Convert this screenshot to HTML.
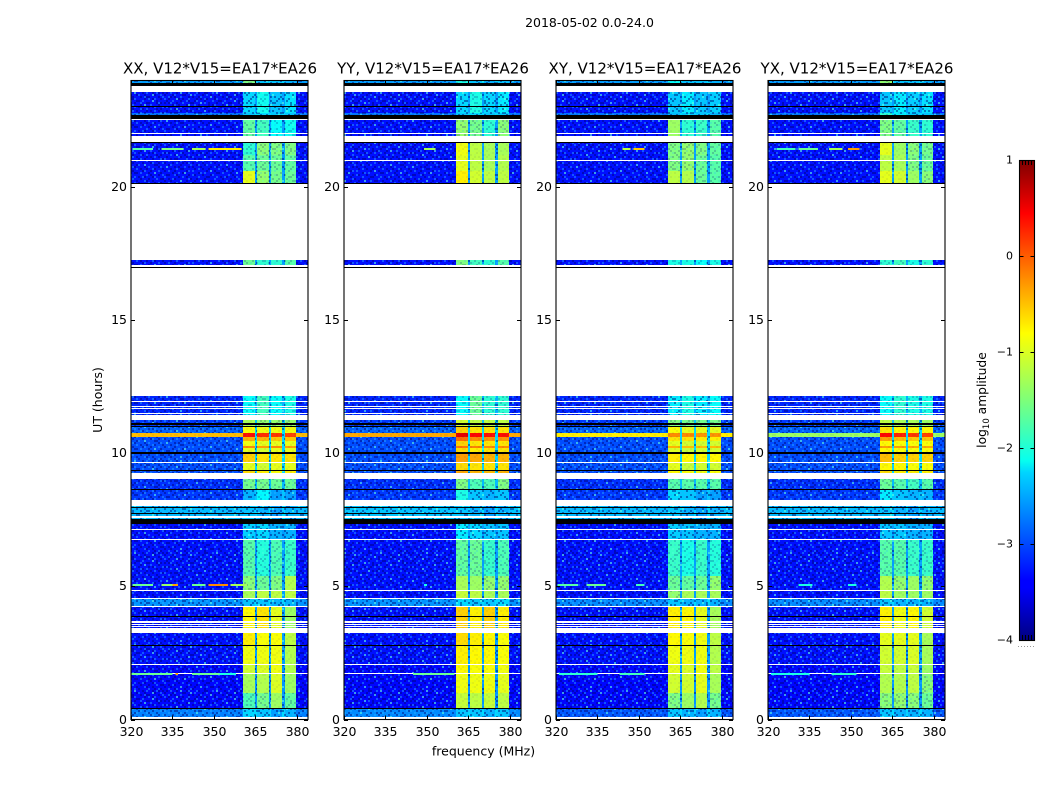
<!DOCTYPE html>
<html lang="en">
<head>
<meta charset="utf-8">
<title>2018-05-02 0.0-24.0</title>
<style>
html,body{margin:0;padding:0;background:#fff;width:1050px;height:800px;overflow:hidden}
svg{display:block}
text{font-family:"DejaVu Sans","Liberation Sans",sans-serif;fill:#000}
.cell{shape-rendering:crispEdges}
</style>
</head>
<body>
<svg id="figure" xmlns="http://www.w3.org/2000/svg" width="1050" height="800" viewBox="0 0 1050 800">
<defs id="defs">
<linearGradient id="jet" x1="0" y1="1" x2="0" y2="0">
<stop offset="0" stop-color="#00007f"/><stop offset="0.11" stop-color="#0000ff"/><stop offset="0.125" stop-color="#0000ff"/>
<stop offset="0.35" stop-color="#00d5ff"/><stop offset="0.375" stop-color="#07ffef"/><stop offset="0.5" stop-color="#7dff7a"/>
<stop offset="0.64" stop-color="#ffff00"/><stop offset="0.75" stop-color="#ff9100"/><stop offset="0.89" stop-color="#ff0000"/><stop offset="1" stop-color="#7f0000"/>
</linearGradient>
</defs>
<text x="589.5" y="27" font-size="12.5" text-anchor="middle">2018-05-02 0.0-24.0</text>
<text x="102" y="400" font-size="12.5" text-anchor="middle" transform="rotate(-90 102 400)">UT (hours)</text>
<text x="483.5" y="755.5" font-size="12.5" text-anchor="middle">frequency (MHz)</text>
<text x="986" y="400" font-size="12.3" text-anchor="middle" transform="rotate(-90 986 400)">log<tspan font-size="8.5" dy="3">10</tspan><tspan dy="-3"> amplitude</tspan></text>
</svg>
<script>
// ---- chart data ----
const panelNames = ['XX', 'YY', 'XY', 'YX'];
const panelLefts = [131, 344, 556, 768];
const xTicks = [320, 335, 350, 365, 380];
const yTicks = [0, 5, 10, 15, 20];
const cbarTicks = [1, 0, -1, -2, -3, -4];
const spwStarts = [360.5, 365.6, 370.6, 375.8];
const spwEnds = [364.9, 369.9, 374.7, 379.7];
const bandStarts = [0.09,0.44,1.0,1.74,2.09,2.79,3.43,3.52,3.59,3.71,3.89,4.28,4.58,4.87,5.4,6.79,7.16,7.53,7.65,7.75,8.0,8.24,8.65,9.24,9.38,9.67,10.04,10.2,10.28,10.45,10.61,10.76,11.04,11.14,11.42,11.51,11.69,11.78,11.96,17.06,20.16,20.6,21.03,21.21,21.92,22.04,22.7,22.79,23.06,23.89];
const bandEnds = [0.41,1.0,1.70,2.05,2.76,3.26,3.48,3.54,3.63,3.85,4.24,4.54,4.83,5.4,6.75,7.12,7.35,7.58,7.71,7.96,8.03,8.63,9.04,9.34,9.64,9.99,10.2,10.28,10.45,10.61,10.76,11.0,11.07,11.26,11.47,11.66,11.75,11.92,12.16,17.24,20.6,20.97,21.19,21.65,22.0,22.51,22.79,23.03,23.56,24.0];
const bandGroups = ['a','b','c','d','e','f','g','g','g','g','g','h','i','j','k','l','l','m','m','m','m','n','o','p','q','r','s','t','u','v','w','x','y','y','z','z','z','z','z','A','B','C','C','D','E','E','F','G','G','H'];
const flagStarts = [0.41,2.76,3.85,7.35,7.71,7.96,8.63,9.34,9.99,10.99,11.07,16.95,20.12,21.65,22.57,23.03,23.79];
const flagEnds = [0.44,2.79,3.89,7.53,7.75,8.0,8.65,9.38,10.04,11.02,11.14,17.01,20.16,21.68,22.7,23.06,23.89];
const groupNames = ['a','b','c','d','e','f','g','h','i','j','k','l','m','n','o','p','q','r','s','t','u','v','w','x','y','z','A','B','C','D','E','F','G','H'];
const levelsXX = [[-2.75,-2.3,-2.4,-2.6,-2.5],[-3.35,-1.75,-1.55,-1.35,-1.65],[-3.35,-1.3,-1.25,-1.05,-1.35],[-3.35,-1.1,-1.05,-.95,-1.25],[-3.3,-.95,-.95,-.95,-1.25],[-3.3,-.8,-.9,-.9,-1.2],[-3.3,-.85,-.75,-1.0,-1.35],[-2.65,-2.4,-2.4,-2.5,-2.5],[-3.3,-1.3,-1.2,-1.2,-1.2],[-3.3,-1.45,-1.6,-1.5,-1.25],[-3.3,-1.7,-1.95,-1.75,-1.85],[-3.3,-2.35,-2.3,-2.5,-2.5],[-2.45,-2.4,-2.5,-2.6,-2.5],[-3.1,-2.5,-2.15,-2.6,-2.6],[-3.15,-1.55,-1.55,-1.6,-1.6],[-3,-.7,-.8,-.9,-.8],[-3,-1,-1.1,-1,-1],[-3,-.65,-.75,-.75,-.75],[-3,-1,-1.1,-1,-1],[-3,-.3,-.4,-.3,-.4],[-3,-.95,-1,-1,-1],[-3,-.5,-.5,-.6,-.6],[-.55,.3,.15,.1,.05],[-2.9,-.9,-.95,-.95,-.95],[-3.1,-1.3,-1.4,-1.4,-1.4],[-3.2,-2.1,-1.8,-2.1,-2.0],[-3.3,-1.6,-1.9,-1.9,-1.7],[-3.3,-1.0,-1.4,-1.55,-1.6],[-3.3,-1.7,-1.6,-1.6,-1.65],[-3.3,-1.9,-1.45,-1.5,-1.5],[-3.3,-1.65,-1.8,-2.1,-2.05],[-2.8,-2.4,-2.3,-2.4,-2.4],[-3.3,-2.3,-2.05,-2.4,-2.25],[-2.6,-1.5,-2.4,-2.4,-2.5]];
const levelsYY = [[-2.7,-2.4,-2.4,-2.5,-2.4],[-3.35,-1.15,-1.2,-1.15,-1.2],[-3.35,-.95,-.95,-.95,-1.0],[-3.35,-.85,-.9,-.9,-.95],[-3.3,-.8,-.85,-.85,-.9],[-3.3,-.7,-.8,-.85,-.9],[-3.3,-.65,-.8,-.65,-.8],[-2.65,-2.3,-2.4,-2.4,-2.3],[-3.3,-1.15,-1.2,-1.3,-1.3],[-3.3,-1.3,-1.35,-1.4,-1.4],[-3.3,-1.65,-1.6,-1.85,-1.75],[-3.3,-2.2,-2.3,-2.4,-2.4],[-2.4,-2.4,-2.5,-2.6,-2.5],[-3.1,-2.0,-2.4,-2.5,-2.4],[-3.15,-1.5,-1.75,-1.75,-1.5],[-3,-.45,-.5,-.55,-.5],[-3,-.7,-.75,-.75,-.75],[-3,-.4,-.45,-.5,-.5],[-3,-.7,-.8,-.75,-.75],[-3,-.2,-.25,-.3,-.3],[-3,-.65,-.75,-.75,-.75],[-3,-.15,-.3,-.35,-.35],[-.45,.5,.35,.3,.3],[-2.9,-.65,-.75,-.75,-.75],[-3.1,-1.1,-1.2,-1.2,-1.2],[-3.2,-2.1,-1.6,-1.9,-1.9],[-3.3,-1.5,-1.8,-1.9,-1.7],[-3.3,-.8,-1.1,-1.2,-1.2],[-3.3,-1.0,-1.2,-1.3,-1.25],[-3.3,-.95,-1.2,-1.3,-1.3],[-3.3,-1.4,-1.55,-1.9,-1.45],[-2.8,-2.4,-2.3,-2.4,-2.4],[-3.3,-2.3,-2.0,-2.3,-2.2],[-2.6,-2.0,-2.4,-2.5,-2.4]];
const levelsXY = [[-2.95,-2.4,-2.5,-2.6,-2.5],[-3.35,-1.5,-1.35,-1.25,-1.55],[-3.35,-1.1,-1.1,-1.0,-1.3],[-3.35,-1.0,-1.05,-.95,-1.2],[-3.3,-.95,-.95,-.95,-1.25],[-3.3,-.85,-.9,-.95,-1.2],[-3.3,-.8,-.85,-1.0,-1.3],[-2.7,-2.4,-2.5,-2.5,-2.5],[-3.3,-1.4,-1.3,-1.3,-1.3],[-3.3,-1.6,-1.65,-1.6,-1.4],[-3.3,-1.85,-2.0,-1.85,-1.95],[-3.3,-2.35,-2.4,-2.5,-2.5],[-2.45,-2.4,-2.5,-2.6,-2.5],[-3.1,-2.3,-2.4,-2.6,-2.6],[-3.15,-1.7,-1.7,-1.7,-1.7],[-3,-.85,-.9,-.95,-.9],[-3,-1.0,-1.15,-1.1,-1.1],[-3,-.8,-.85,-.85,-.85],[-3,-1.05,-1.15,-1.1,-1.1],[-3,-.5,-.55,-.55,-.55],[-3,-1.0,-1.1,-1.1,-1.1],[-3,-.75,-.75,-.8,-.8],[-.8,-.3,-.3,-.35,-.35],[-2.9,-.9,-1.0,-1.0,-1.0],[-3.1,-1.5,-1.55,-1.55,-1.55],[-3.2,-2.2,-2.0,-2.2,-2.1],[-3.3,-2.0,-2.0,-2.1,-2.0],[-3.3,-1.2,-1.25,-1.6,-1.7],[-3.3,-1.5,-1.4,-1.6,-1.7],[-3.3,-1.5,-1.4,-1.5,-1.65],[-3.3,-1.35,-1.9,-1.85,-1.7],[-2.8,-2.45,-2.4,-2.4,-2.5],[-3.3,-2.4,-2.2,-2.4,-2.35],[-2.6,-2.1,-2.4,-2.4,-2.5]];
const levelsYX = [[-2.95,-2.4,-2.5,-2.5,-2.5],[-3.35,-1.45,-1.4,-1.45,-1.6],[-3.35,-1.25,-1.25,-1.2,-1.45],[-3.35,-1.15,-1.2,-1.15,-1.35],[-3.3,-1.1,-1.1,-1.05,-1.3],[-3.3,-1.0,-1.0,-1.0,-1.3],[-3.3,-.8,-.95,-.85,-1.1],[-2.7,-2.4,-2.5,-2.5,-2.5],[-3.3,-1.2,-1.35,-1.35,-1.35],[-3.3,-1.25,-1.4,-1.35,-1.4],[-3.3,-1.7,-1.7,-1.85,-1.85],[-3.3,-2.4,-2.4,-2.5,-2.5],[-2.45,-2.4,-2.5,-2.6,-2.5],[-3.1,-2.2,-2.4,-2.5,-2.5],[-3.15,-1.6,-1.7,-1.8,-1.7],[-3,-.7,-.8,-.8,-.8],[-3,-.85,-.85,-.9,-.9],[-3,-.55,-.65,-.65,-.65],[-3,-.85,-.9,-.9,-.9],[-3,-.4,-.4,-.45,-.45],[-3,-.85,-.9,-.9,-.9],[-3,-.4,-.55,-.6,-.6],[-1.35,.35,.2,.1,.05],[-2.9,-.75,-.85,-.85,-.85],[-3.1,-1.2,-1.3,-1.3,-1.35],[-3.2,-2.1,-1.9,-2.0,-2.0],[-3.3,-1.9,-1.8,-2.0,-1.9],[-3.3,-1.0,-1.1,-1.35,-1.45],[-3.3,-1.2,-1.3,-1.5,-1.6],[-3.3,-1.0,-1.35,-1.45,-1.55],[-3.3,-1.5,-1.65,-1.85,-1.9],[-2.8,-1.9,-2.2,-2.4,-2.4],[-3.3,-2.4,-2.2,-2.35,-2.25],[-2.6,-1.4,-2.4,-2.4,-2.5]];
const panelLevels = [levelsXX, levelsYY, levelsXY, levelsYX];
const rfiPanels = [0,0,0,0,0,0, 0,0,0,0, 0,0,0,0, 1,1,2,2,2,2, 3,3,3,3, 2,2,2,3,3,3,1,3];
const rfiHours = [5.07,5.07,5.07,5.07,5.07,5.07, 21.42,21.42,21.42,21.42, 1.72,1.72,1.72,1.72, 21.42,1.72, 5.07,5.07,21.42,21.42, 21.42,21.42,21.42,21.42, 1.72,1.72,5.07,1.72,1.72,5.07,5.07,5.07];
const rfiStarts = [320.5,331,335,342,348,356, 320.5,331,342,348, 320,336,342,352, 349,345, 320.5,331,344,348, 323,331,342,349, 321,343,349,321,343,349,349,331];
const rfiEnds = [328,336,337,347,355,362, 328,339,347,360, 335,337,352,358, 353,360, 328,338,347,352, 330,338,347,353, 335,352,352,335,352,352,350,336];
const rfiLevels = [-1.6,-1.4,-.4,-1.6,-.3,-1.3, -1.7,-1.5,-1.3,-.8, -1.6,-.4,-1.6,-2, -1.3,-1.6, -1.7,-1.6,-1.2,-.6, -1.8,-1.6,-1.3,-.4, -1.9,-1.8,-1.8,-2,-1.9,-2,-2,-2];
// Speckle tile: amplitude scatter sampled from the noise floor (0 none, 1 low, 2 high, 3 peak)
const speckleRows = [
 '01020010300120002100110020300010200102101',
 '10001200011003020001020100012001000310020',
 '00210100200010100120000301000102110000102',
 '20100031010020001010210001200001020120010',
 '01002000100210012000100020011020000301000',
 '10120010020001100030201000100200110001210',
 '00001201000130020100001012000103002000100',
 '12100000210000100012010200201000010120002',
 '00020130001020001200100001000210200001010',
 '01000002100101200000301012010000101020100',
 '20010110000200010110000200001201000100021',
 '00200001201000003002010010120000210001000',
 '10001020010120100001000201000010001200102',
 '00120000100002001200120000012003000011000',
 '03000101002010100010000102100001020000120',
 '00010020110000010201001000020100100210001',
 '10200100000120200000010301000012001000200',
 '00001002013000000120200000110200010030010',
 '01100210000010210001000120000000201000102',
 '20000001020100000200011000201021000120000',
 '00102100000021001000100002000100010002011',
 '10010000300100010030020110010002100100000',
 '00200120001002100000100000201000020010210'
];
const CMAP_MIN = -4, CMAP_MAX = 1;

// ---- helpers ----
const NS = 'http://www.w3.org/2000/svg';
const svg = document.getElementById('figure');
const defs = document.getElementById('defs');
const AX_TOP = 80.5, AX_BOTTOM = 719.5, AX_W = 177;
function xScale(left, f){ return left + (f - 320) * AX_W / 64; }
function yScale(h){ return AX_BOTTOM - h * (AX_BOTTOM - AX_TOP) / 24; }
function cbarY(v){ return 640 - (v - CMAP_MIN) * 480 / (CMAP_MAX - CMAP_MIN); }
function jet(v){
  const t = Math.max(0, Math.min(1, (v - CMAP_MIN) / (CMAP_MAX - CMAP_MIN)));
  const f = (c) => Math.round(255 * Math.max(0, Math.min(1, 1.5 - Math.abs(4 * t - c))));
  return 'rgb(' + f(3) + ',' + f(2) + ',' + f(1) + ')';
}
function make(parent, tag, attrs){
  const el = document.createElementNS(NS, tag);
  for (const k in attrs) el.setAttribute(k, attrs[k]);
  parent.appendChild(el);
  return el;
}

// ---- speckle pattern ----
const pattern = make(defs, 'pattern', {id:'speckle', width:82, height:46, patternUnits:'userSpaceOnUse'});
const speckleFill = ['', '#000070', '#28b0ff', '#60ffe0'];
const speckleAlpha = [0, 0.45, 0.45, 0.6];
speckleRows.forEach((row, r) => {
  for (let c = 0; c < row.length; c++) {
    const code = Number(row[c]);
    if (!code) continue;
    const s = make(pattern, 'rect', {x:c*2, y:r*2, width:2, height:2, fill:speckleFill[code], 'fill-opacity':speckleAlpha[code]});
    
    
  }
});

// ---- panels ----
panelNames.forEach((name, p) => {
  const left = panelLefts[p];
  const right = left + AX_W;
  const levels = panelLevels[p];
  const key = name.toLowerCase();
  const g = make(svg, 'g', {});
  
  

  bandStarts.forEach((h0, b) => {
    const h1 = bandEnds[b];
    const row = levels[groupNames.indexOf(bandGroups[b])];
    const base = row[0];
    const gap = Math.min(base + 0.7, -2.3);
    const y0 = Math.round(yScale(h1));
    const ht = Math.max(1, Math.round(yScale(h0)) - y0);
    const segs = [[320, spwStarts[0], base]];
    spwStarts.forEach((s, i) => {
      segs.push([s, spwEnds[i], row[i + 1]]);
      const next = i < 3 ? spwStarts[i + 1] : 384;
      segs.push([spwEnds[i], next, i < 3 ? gap : base]);
    });
    segs.forEach((sg) => {
      const x0 = Math.round(xScale(left, sg[0]));
      const x1 = Math.round(xScale(left, sg[1]));
      const cell = make(g, 'rect', {class:'cell', x:x0, y:y0, width:x1 - x0, height:ht, fill:jet(sg[2])});
      
      
      const texture = sg[2] > -1.4 ? 0.12 : (sg[2] > -2.2 ? 0.45 : 1);
      const ov = make(g, 'rect', {class:'cell', x:x0, y:y0, width:x1 - x0, height:ht, fill:'url(#speckle)', opacity:texture});
      
      
    });
  });

  rfiHours.forEach((h, i) => {
    if (rfiPanels[i] !== p) return;
    const x0 = xScale(left, rfiStarts[i]);
    const rl = make(g, 'rect', {class:'cell', x:x0, y:Math.round(yScale(h)) - 1, width:xScale(left, rfiEnds[i]) - x0, height:2, fill:jet(rfiLevels[i])});
    
    
  });

  flagStarts.forEach((h0, i) => {
    const y0 = Math.round(yScale(flagEnds[i]));
    const fl = make(g, 'rect', {class:'cell', x:left, y:y0, width:AX_W, height:Math.max(1, Math.round(yScale(h0)) - y0), fill:'#000'});
    
    
  });

  const frame = make(g, 'rect', {x:left, y:AX_TOP, width:AX_W, height:AX_BOTTOM - AX_TOP, fill:'none', stroke:'#000', 'stroke-width':1.1});
  
  

  const title = make(g, 'text', {x:left + AX_W / 2 + 0.5, y:73.5, 'font-size':15, 'text-anchor':'middle'});
  title.textContent = name + ', V12*V15=EA17*EA26';
  
  

  xTicks.forEach((f) => {
    const x = Math.round(xScale(left, f)) + 0.5;
    const t1 = make(g, 'line', {x1:x, x2:x, y1:AX_BOTTOM, y2:AX_BOTTOM - 4, stroke:'#000'});
    
    
    const t2 = make(g, 'line', {x1:x, x2:x, y1:AX_TOP, y2:AX_TOP + 4, stroke:'#000'});
    
    
    const lab = make(g, 'text', {x:x, y:736, 'font-size':12.5, 'text-anchor':'middle'});
    lab.textContent = f;
    
    
  });
  yTicks.forEach((h) => {
    const y = Math.round(yScale(h)) + 0.5;
    const t1 = make(g, 'line', {x1:left, x2:left + 4, y1:y, y2:y, stroke:'#000'});
    
    
    const t2 = make(g, 'line', {x1:right, x2:right - 4, y1:y, y2:y, stroke:'#000'});
    
    
    const lab = make(g, 'text', {x:left - 4, y:y + 3.5, 'font-size':12.5, 'text-anchor':'end'});
    lab.textContent = h;
    
    
  });
});

// ---- colorbar ----
const cb = make(svg, 'g', {});


const bar = make(cb, 'rect', {x:1019.5, y:160.5, width:15, height:480, fill:'url(#jet)', stroke:'#000', 'stroke-width':1.1});


cbarTicks.forEach((v) => {
  const y = Math.round(cbarY(v)) + 0.5;
  [[1019.5, 1023.5], [1034.5, 1030.5]].forEach((xs) => {
    const tk = make(cb, 'line', {x1:xs[0], x2:xs[1], y1:y, y2:y, stroke:'#000'});
    
    
  });
  const lab = make(cb, 'text', {x:1013, y:y + 3, 'font-size':11, 'text-anchor':'end'});
  lab.textContent = v < 0 ? '\u2212' + Math.abs(v) : String(v);
  
  
});
[1022, 1025, 1028, 1031].forEach((x) => {
  const a = make(cb, 'line', {x1:x + 0.5, x2:x + 0.5, y1:160, y2:165, stroke:'#000'});
  
  
  const b = make(cb, 'line', {x1:x + 0.5, x2:x + 0.5, y1:635, y2:640, stroke:'#000'});
  
  
});
[1018, 1021, 1024, 1027, 1030, 1033].forEach((x) => {
  const d = make(cb, 'rect', {class:'cell', x:x, y:646, width:1, height:1, fill:'#999'});
  
  
});
</script>
</body>
</html>
